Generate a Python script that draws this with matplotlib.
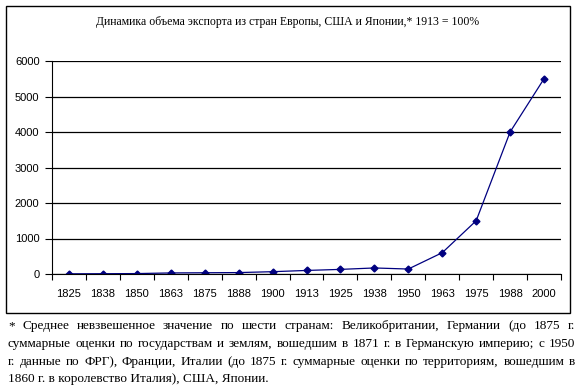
import matplotlib
matplotlib.use('Agg')
import matplotlib.pyplot as plt
from matplotlib.patches import Rectangle

# data
years = ['1825', '1838', '1850', '1863', '1875', '1888', '1900', '1913',
         '1925', '1938', '1950', '1963', '1975', '1988', '2000']
export_index = [5, 8, 12, 30, 35, 40, 65, 100, 130, 170, 140, 600, 1500, 4000, 5500]
y_ticks = [0, 1000, 2000, 3000, 4000, 5000, 6000]

title = 'Динамика объема экспорта из стран Европы, США и Японии,* 1913 = 100%'
note_lines = [
    '* Среднее невзвешенное значение по шести странам: Великобритании, Германии (до 1875 г.',
    'суммарные оценки по государствам и землям, вошедшим в 1871 г. в Германскую империю; с 1950',
    'г. данные по ФРГ), Франции, Италии (до 1875 г. суммарные оценки по территориям, вошедшим в',
    '1860 г. в королевство Италия), США, Японии.',
]

plt.rcParams['font.family'] = ['Liberation Serif', 'DejaVu Serif']

W, H = 582, 388
fig = plt.figure(figsize=(W / 100, H / 100), dpi=100)
fig.patch.set_facecolor('white')

# outer chart frame
fig.add_artist(Rectangle((6 / W, 1 - 313 / H), 564 / W, 307 / H, transform=fig.transFigure,
                         fill=False, edgecolor='black', linewidth=1.0))

ax = fig.add_axes([52 / W, 1 - 274 / H, 509 / W, 213 / H])
x = list(range(len(years)))
ax.plot(x, export_index, color='#000080', linewidth=0.9, marker='D', markersize=3.5,
        markerfacecolor='#000080', markeredgecolor='#000080')

ax.set_xlim(-0.5, len(years) - 0.5)
ax.set_ylim(0, 6000)
ax.set_yticks(y_ticks)
ax.set_yticklabels([str(v) for v in y_ticks], fontsize=8, family=['Liberation Sans'])
ax.set_xticks(x)
ax.set_xticklabels(years, fontsize=8, family=['Liberation Sans'])
ax.tick_params(axis='x', length=0, pad=11)
ax.set_xticks([i - 0.5 for i in range(len(years) + 1)], minor=True)
ax.tick_params(axis='x', which='minor', length=4, direction='out', width=0.8)
ax.tick_params(axis='y', length=5, direction='out', width=0.8, pad=4)
ax.grid(axis='y', color='black', linewidth=0.9)
ax.set_axisbelow(True)
for side in ['top', 'right']:
    ax.spines[side].set_visible(False)
ax.spines['left'].set_linewidth(0.8)
ax.spines['bottom'].set_linewidth(0.8)

fig.text(288 / W, 1 - 22 / H, title, ha='center', va='center', fontsize=8.5)

# justified footnote below the frame
fig.canvas.draw()
renderer = fig.canvas.get_renderer()
x_left, x_right = 8, 575
fs = 9.5
baselines = [329, 347, 365, 382]
for k, line in enumerate(note_lines):
    yy = 1 - baselines[k] / H
    if k == len(note_lines) - 1:
        fig.text(x_left / W, yy, line, ha='left', va='baseline', fontsize=fs)
        continue
    words = line.split(' ')
    widths = []
    for w in words:
        t = fig.text(0, 0, w, fontsize=fs)
        widths.append(t.get_window_extent(renderer).width)
        t.remove()
    gap = (x_right - x_left - sum(widths)) / (len(words) - 1)
    pos = x_left
    for w, wd in zip(words, widths):
        fig.text(pos / W, yy, w, ha='left', va='baseline', fontsize=fs)
        pos += wd + gap

fig.savefig('out.png', dpi=100)
